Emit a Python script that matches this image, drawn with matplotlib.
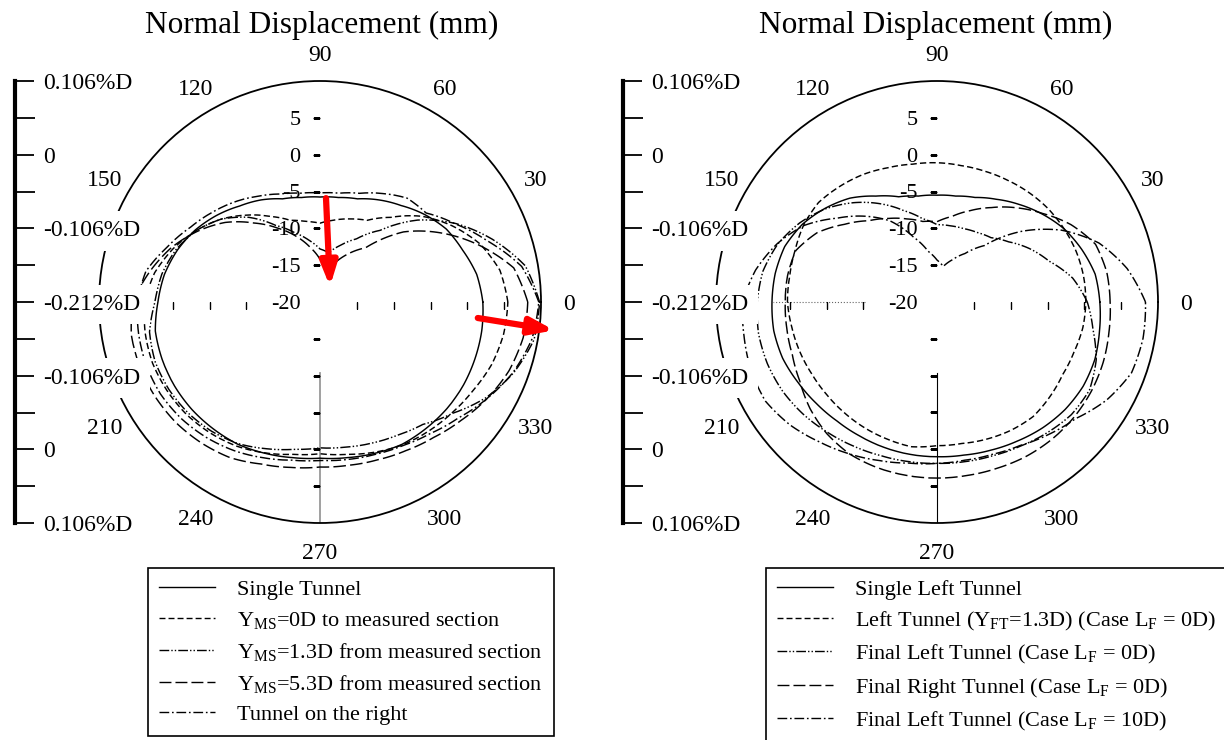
import numpy as np
import matplotlib
matplotlib.use("Agg")
import matplotlib.pyplot as plt
from matplotlib.lines import Line2D

plt.rcParams['font.family'] = ['Liberation Serif', 'DejaVu Serif']
plt.rcParams['mathtext.fontset'] = 'custom'
plt.rcParams['mathtext.rm'] = 'Liberation Serif'
plt.rcParams['mathtext.it'] = 'Liberation Serif:italic'

W, H = 1224, 740

# angle of each reading (deg), values are normal displacement in mm
angles = np.arange(0, 360, 10)

# left chart
single_tunnel = [2.1, 1.6, 0.6, -0.2, -1.5, -2.9, -4.0, -5.1, -5.6, -5.75, -5.6, -5.1,
                 -4.0, -3.0, -1.7, -0.45, 0.6, 1.45, 2.0, 2.7, 2.8, 2.8, 2.7, 2.5,
                 2.3, 1.85, 1.45, 1.2, 1.45, 1.85, 2.3, 2.4, 2.5, 2.5, 2.4, 2.3]
yms_0d = [5.5, 4.8, 3.1, 0.7, -1.9, -5.0, -7.2, -8.0, -8.7, -9.3, -8.9, -8.2,
          -6.6, -4.6, -2.5, -0.6, 1.2, 2.8, 3.8, 4.1, 4.2, 4.0, 3.7, 3.2,
          2.6, 1.8, 1.0, 0.6, 1.0, 1.7, 2.4, 2.9, 3.4, 4.0, 4.8, 5.3]
yms_13d = [9.8, 8.3, 4.9, 1.3, -2.7, -7.3, -10.1, -11.8, -13.2, -12.8, -11.5, -10.0,
           -8.0, -5.0, -2.5, -0.6, 0.8, 1.8, 2.4, 3.5, 3.8, 3.7, 3.4, 2.9,
           2.2, 1.2, 0.3, -0.2, 0.0, 0.4, 0.9, 1.7, 3.5, 6.0, 8.0, 9.5]
yms_53d = [8.2, 6.7, 2.8, -1.2, -5.2, -10.4, -12.5, -14.5, -15.2, -14.2, -12.5, -10.5,
           -8.4, -6.0, -3.2, -0.8, 1.5, 3.5, 5.4, 6.0, 6.0, 5.8, 5.5, 5.0,
           4.4, 3.4, 2.8, 2.4, 2.5, 2.8, 3.3, 4.0, 5.0, 6.2, 7.3, 8.0]
right_tunnel = [9.7, 7.8, 4.2, 1.2, -1.2, -1.6, -3.0, -4.3, -5.0, -5.2, -5.0, -4.4,
                -3.4, -2.2, -1.0, 0.3, 2.0, 4.0, 4.8, 5.0, 5.1, 5.0, 4.6, 4.0,
                3.3, 2.5, 1.8, 1.5, 1.7, 2.0, 2.5, 3.3, 4.5, 6.2, 7.9, 9.2]

# right chart
single_left = [2.1, 1.8, 0.9, -0.1, -1.4, -2.7, -3.9, -4.9, -5.4, -5.5, -5.4, -4.8,
               -3.4, -1.6, -0.2, 1.1, 2.0, 2.3, 2.4, 2.5, 2.3, 1.8, 1.4, 1.1,
               1.0, 1.0, 1.0, 1.0, 1.1, 1.4, 1.8, 2.3, 2.7, 2.9, 2.8, 2.4]
left_yft = [0.2, 0.2, 0.1, -0.1, -0.3, -0.6, -0.9, -1.1, -1.2, -1.1, -1.0, -0.6,
            0.0, 0.5, 1.0, 0.9, 0.5, 0.3, 0.3, 0.0, -0.2, -0.4, -0.45, -0.4,
            -0.3, -0.2, -0.05, -0.5, -0.5, -0.2, 0.1, 0.3, 0.0, -0.3, -0.2, 0.1]
final_left_0d = [0.4, -1.3, -3.8, -5.5, -7.3, -8.6, -9.1, -9.4, -9.5, -9.5, -8.5, -6.8,
                 -4.6, -2.4, -0.3, 1.5, 3.0, 4.0, 4.4, 4.6, 4.5, 4.2, 3.7, 3.1,
                 2.6, 2.2, 2.0, 1.9, 2.0, 2.2, 2.6, 3.2, 3.8, 3.9, 3.0, 1.5]
final_right_0d = [3.5, 3.4, 2.9, 1.0, -1.3, -3.3, -5.2, -6.8, -8.2, -9.1, -8.9, -8.0,
                  -6.9, -5.6, -3.6, -1.2, 0.4, 0.6, 0.6, 0.7, 0.9, 1.5, 2.5, 3.3,
                  3.8, 3.9, 3.9, 3.9, 3.9, 4.0, 4.2, 4.3, 4.3, 4.2, 4.0, 3.7]
final_left_10d = [8.3, 6.2, 3.4, -0.5, -5.1, -10.0, -12.4, -13.9, -15.1, -14.3, -13.0, -10.6,
                  -7.3, -4.8, -2.3, 0.8, 3.1, 5.0, 6.4, 6.6, 6.9, 6.9, 6.0, 4.8,
                  3.8, 2.9, 2.2, 1.9, 1.8, 2.0, 2.5, 3.5, 4.6, 6.6, 8.1, 8.4]

left_labels = ['Single Tunnel',
               r'Y$_{\mathrm{MS}}$=0D to measured section',
               r'Y$_{\mathrm{MS}}$=1.3D from measured section',
               r'Y$_{\mathrm{MS}}$=5.3D from measured section',
               'Tunnel on the right']
right_labels = ['Single Left Tunnel',
                r'Left Tunnel (Y$_{\mathrm{FT}}$=1.3D) (Case L$_{\mathrm{F}}$ = 0D)',
                r'Final Left Tunnel (Case L$_{\mathrm{F}}$ = 0D)',
                r'Final Right Tunnel (Case L$_{\mathrm{F}}$ = 0D)',
                r'Final Left Tunnel (Case L$_{\mathrm{F}}$ = 10D)']

theta_ticks = list(range(0, 360, 30))
# the 180 label sits under the -0.212%D box in the original
theta_ticklabels = ['' if t == 180 else str(t) for t in theta_ticks]
r_ticks = [5, 0, -5, -10, -15]
r_ticklabels = [5, 0, -5, -10, -15, -20]
bracket_pos = [6, 4, 2, 0, -2, -4, -6]
bracket_text = ['0.106%D', '0', '-0.106%D', '-0.212%D', '-0.106%D', '0', '0.106%D']

line_styles = [dict(ls='-'),
               dict(dashes=(4.3, 2.2)),
               dict(dashes=(7, 1.5, 1, 1.5, 1, 1.5)),
               dict(dashes=(8.6, 2.9)),
               dict(dashes=(7, 2, 1.2, 2))]

FS = 16
R_PX = 221
CY = 302


def closed(vals):
    th = np.deg2rad(np.append(angles, 360))
    return th, np.append(vals, vals[0])


def polar_panel(fig, cx, series, bottom_line_color, bottom_lw, dotted_left):
    ax = fig.add_axes([(cx - R_PX) / W, 1 - (CY + R_PX) / H, 2 * R_PX / W, 2 * R_PX / H],
                      projection='polar')
    ax.set_ylim(-20, 10)
    ax.set_thetagrids(theta_ticks, theta_ticklabels)
    ax.set_yticks([])
    ax.grid(False)
    ax.tick_params(axis='x', direction='out', length=7, width=1, pad=6, labelsize=17)
    for lab in ax.get_xticklabels():
        lab.set_va('center_baseline')
    ax.spines['polar'].set_linewidth(1.3)

    for vals, st in zip(series, line_styles):
        th, r = closed(vals)
        ln, = ax.plot(th, r, color='k', lw=1.05, zorder=3, **st)
        # draw each segment along the polar grid (theta/r linear) rather than as a chord
        ln.get_path()._interpolation_steps = 12

    # radial axis decorations
    ax.plot(np.full(len(r_ticks), np.pi / 2), r_ticks, ls='none', marker=0,
            ms=5, mew=1, color='k')
    ax.plot(np.full(len(r_ticks), 1.5 * np.pi), r_ticks, ls='none', marker=0,
            ms=5, mew=1, color='k')
    ax.plot(np.zeros(len(r_ticks)), r_ticks, ls='none', marker=3,
            ms=5, mew=1, color='k')
    ax.plot(np.full(4, np.pi), r_ticks[:4], ls='none', marker=3,
            ms=5, mew=1, color='k')
    ax.plot([1.5 * np.pi] * 2, [-10.4, 10], color=bottom_line_color, lw=bottom_lw, zorder=1)
    if dotted_left:
        ax.plot([np.pi] * 2, [-10.2, 2.3], color='0.4', lw=0.8, ls=':', zorder=1)
    for r in r_ticklabels:
        ax.annotate(str(r), xy=(np.pi / 2, r), xytext=(-14, 0), textcoords='offset points',
                    ha='right', va='center_baseline', fontsize=FS, zorder=4)
    return ax


def bracket(fig, x_px):
    bax = fig.add_axes([x_px / W, 1 - (CY + R_PX) / H, 150 / W, 2 * R_PX / H])
    bax.set_ylim(-6, 6)
    bax.set_xlim(0, 1)
    for s in ['top', 'right', 'bottom']:
        bax.spines[s].set_visible(False)
    bax.spines['left'].set_linewidth(3)
    bax.set_yticks(np.arange(-6, 7))
    bax.set_yticklabels([])
    bax.set_xticks([])
    bax.tick_params(axis='y', direction='in', length=14.5, width=1.3)
    bax.patch.set_visible(False)
    bax.set_zorder(5)
    for pos, lab in zip(bracket_pos, bracket_text):
        bax.text(28 / 150, pos, lab, ha='left', va='center_baseline', fontsize=17,
                 bbox=dict(boxstyle='square,pad=0.4', facecolor='white', edgecolor='none'))
    return bax


def legend(fig, x_px, labels):
    handles = [Line2D([], [], color='k', lw=1.0, **st) for st in line_styles]
    leg = fig.legend(handles, labels, loc='upper left',
                     bbox_to_anchor=(x_px / W, 1 - 568 / H), fontsize=16,
                     frameon=True, fancybox=False, edgecolor='k', framealpha=1,
                     handlelength=2.5, handletextpad=1.0, labelspacing=0.45,
                     borderpad=0.5, borderaxespad=0)
    leg.get_frame().set_linewidth(1.2)
    return leg


fig = plt.figure(figsize=(W / 100, H / 100), dpi=100)

axL = polar_panel(fig, 320, [single_tunnel, yms_0d, yms_13d, yms_53d, right_tunnel],
                  '0.6', 1.3, False)
axR = polar_panel(fig, 937, [single_left, left_yft, final_left_0d, final_right_0d,
                             final_left_10d], 'k', 0.8, True)
bracket(fig, 15)
bracket(fig, 623)

fig.text(322 / W, 1 - 25 / H, 'Normal Displacement (mm)', ha='center', va='center', fontsize=22.5)
fig.text(936 / W, 1 - 25 / H, 'Normal Displacement (mm)', ha='center', va='center', fontsize=22.5)

# red arrows on the left chart
arrow = dict(arrowstyle='-|>,head_length=0.7,head_width=0.25', color='red', lw=4.5,
             mutation_scale=20, shrinkA=0, shrinkB=0)
axL.annotate('', xy=(0.5226, 0.535), xytext=(0.5136, 0.735), xycoords='axes fraction',
             arrowprops=arrow, zorder=6)
axL.annotate('', xy=(1.03, 0.436), xytext=(0.857, 0.4638), xycoords='axes fraction',
             arrowprops=arrow, zorder=6)

legend(fig, 148, left_labels)
legend(fig, 766, right_labels)

fig.savefig('out.png', dpi=100, facecolor='white')
